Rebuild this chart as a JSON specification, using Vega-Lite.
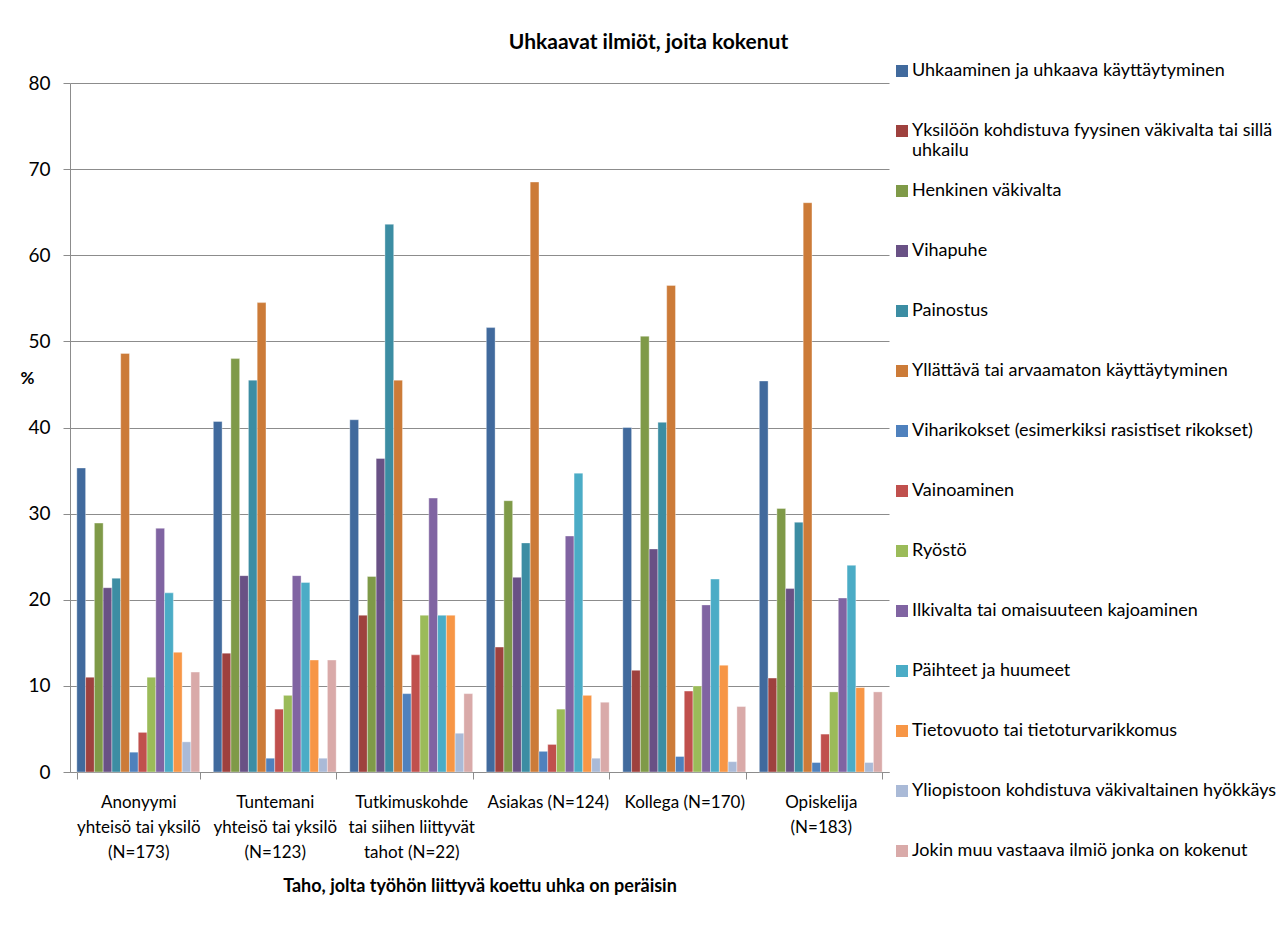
{
  "$schema": "https://vega.github.io/schema/vega-lite/v6.json",
  "width": 819,
  "height": 689,
  "autosize": {"type": "none"},
  "padding": {"left": 70, "top": 83, "right": 398, "bottom": 177},
  "background": "white",
  "title": {
    "text": "Uhkaavat ilmiöt, joita kokenut",
    "font": "Lato",
    "fontSize": 21,
    "fontWeight": "bold",
    "color": "black",
    "anchor": "middle",
    "frame": "bounds",
    "offset": -12
  },
  "data": {
    "values": [
      {"taho": "Anonyymi\nyhteisö tai yksilö\n(N=173)", "ilmio": "Uhkaaminen ja uhkaava käyttäytyminen", "osuus": 35.3},
      {"taho": "Anonyymi\nyhteisö tai yksilö\n(N=173)", "ilmio": "Yksilöön kohdistuva fyysinen väkivalta tai sillä\nuhkailu", "osuus": 11.0},
      {"taho": "Anonyymi\nyhteisö tai yksilö\n(N=173)", "ilmio": "Henkinen väkivalta", "osuus": 28.9},
      {"taho": "Anonyymi\nyhteisö tai yksilö\n(N=173)", "ilmio": "Vihapuhe", "osuus": 21.4},
      {"taho": "Anonyymi\nyhteisö tai yksilö\n(N=173)", "ilmio": "Painostus", "osuus": 22.5},
      {"taho": "Anonyymi\nyhteisö tai yksilö\n(N=173)", "ilmio": "Yllättävä tai arvaamaton käyttäytyminen", "osuus": 48.6},
      {"taho": "Anonyymi\nyhteisö tai yksilö\n(N=173)", "ilmio": "Viharikokset (esimerkiksi rasistiset rikokset)", "osuus": 2.3},
      {"taho": "Anonyymi\nyhteisö tai yksilö\n(N=173)", "ilmio": "Vainoaminen", "osuus": 4.6},
      {"taho": "Anonyymi\nyhteisö tai yksilö\n(N=173)", "ilmio": "Ryöstö", "osuus": 11.0},
      {"taho": "Anonyymi\nyhteisö tai yksilö\n(N=173)", "ilmio": "Ilkivalta tai omaisuuteen kajoaminen", "osuus": 28.3},
      {"taho": "Anonyymi\nyhteisö tai yksilö\n(N=173)", "ilmio": "Päihteet ja huumeet", "osuus": 20.8},
      {"taho": "Anonyymi\nyhteisö tai yksilö\n(N=173)", "ilmio": "Tietovuoto tai tietoturvarikkomus", "osuus": 13.9},
      {"taho": "Anonyymi\nyhteisö tai yksilö\n(N=173)", "ilmio": "Yliopistoon kohdistuva väkivaltainen hyökkäys", "osuus": 3.5},
      {"taho": "Anonyymi\nyhteisö tai yksilö\n(N=173)", "ilmio": "Jokin muu vastaava ilmiö  jonka on kokenut", "osuus": 11.6},

      {"taho": "Tuntemani\nyhteisö tai yksilö\n(N=123)", "ilmio": "Uhkaaminen ja uhkaava käyttäytyminen", "osuus": 40.7},
      {"taho": "Tuntemani\nyhteisö tai yksilö\n(N=123)", "ilmio": "Yksilöön kohdistuva fyysinen väkivalta tai sillä\nuhkailu", "osuus": 13.8},
      {"taho": "Tuntemani\nyhteisö tai yksilö\n(N=123)", "ilmio": "Henkinen väkivalta", "osuus": 48.0},
      {"taho": "Tuntemani\nyhteisö tai yksilö\n(N=123)", "ilmio": "Vihapuhe", "osuus": 22.8},
      {"taho": "Tuntemani\nyhteisö tai yksilö\n(N=123)", "ilmio": "Painostus", "osuus": 45.5},
      {"taho": "Tuntemani\nyhteisö tai yksilö\n(N=123)", "ilmio": "Yllättävä tai arvaamaton käyttäytyminen", "osuus": 54.5},
      {"taho": "Tuntemani\nyhteisö tai yksilö\n(N=123)", "ilmio": "Viharikokset (esimerkiksi rasistiset rikokset)", "osuus": 1.6},
      {"taho": "Tuntemani\nyhteisö tai yksilö\n(N=123)", "ilmio": "Vainoaminen", "osuus": 7.3},
      {"taho": "Tuntemani\nyhteisö tai yksilö\n(N=123)", "ilmio": "Ryöstö", "osuus": 8.9},
      {"taho": "Tuntemani\nyhteisö tai yksilö\n(N=123)", "ilmio": "Ilkivalta tai omaisuuteen kajoaminen", "osuus": 22.8},
      {"taho": "Tuntemani\nyhteisö tai yksilö\n(N=123)", "ilmio": "Päihteet ja huumeet", "osuus": 22.0},
      {"taho": "Tuntemani\nyhteisö tai yksilö\n(N=123)", "ilmio": "Tietovuoto tai tietoturvarikkomus", "osuus": 13.0},
      {"taho": "Tuntemani\nyhteisö tai yksilö\n(N=123)", "ilmio": "Yliopistoon kohdistuva väkivaltainen hyökkäys", "osuus": 1.6},
      {"taho": "Tuntemani\nyhteisö tai yksilö\n(N=123)", "ilmio": "Jokin muu vastaava ilmiö  jonka on kokenut", "osuus": 13.0},

      {"taho": "Tutkimuskohde\ntai siihen liittyvät\ntahot  (N=22)", "ilmio": "Uhkaaminen ja uhkaava käyttäytyminen", "osuus": 40.9},
      {"taho": "Tutkimuskohde\ntai siihen liittyvät\ntahot  (N=22)", "ilmio": "Yksilöön kohdistuva fyysinen väkivalta tai sillä\nuhkailu", "osuus": 18.2},
      {"taho": "Tutkimuskohde\ntai siihen liittyvät\ntahot  (N=22)", "ilmio": "Henkinen väkivalta", "osuus": 22.7},
      {"taho": "Tutkimuskohde\ntai siihen liittyvät\ntahot  (N=22)", "ilmio": "Vihapuhe", "osuus": 36.4},
      {"taho": "Tutkimuskohde\ntai siihen liittyvät\ntahot  (N=22)", "ilmio": "Painostus", "osuus": 63.6},
      {"taho": "Tutkimuskohde\ntai siihen liittyvät\ntahot  (N=22)", "ilmio": "Yllättävä tai arvaamaton käyttäytyminen", "osuus": 45.5},
      {"taho": "Tutkimuskohde\ntai siihen liittyvät\ntahot  (N=22)", "ilmio": "Viharikokset (esimerkiksi rasistiset rikokset)", "osuus": 9.1},
      {"taho": "Tutkimuskohde\ntai siihen liittyvät\ntahot  (N=22)", "ilmio": "Vainoaminen", "osuus": 13.6},
      {"taho": "Tutkimuskohde\ntai siihen liittyvät\ntahot  (N=22)", "ilmio": "Ryöstö", "osuus": 18.2},
      {"taho": "Tutkimuskohde\ntai siihen liittyvät\ntahot  (N=22)", "ilmio": "Ilkivalta tai omaisuuteen kajoaminen", "osuus": 31.8},
      {"taho": "Tutkimuskohde\ntai siihen liittyvät\ntahot  (N=22)", "ilmio": "Päihteet ja huumeet", "osuus": 18.2},
      {"taho": "Tutkimuskohde\ntai siihen liittyvät\ntahot  (N=22)", "ilmio": "Tietovuoto tai tietoturvarikkomus", "osuus": 18.2},
      {"taho": "Tutkimuskohde\ntai siihen liittyvät\ntahot  (N=22)", "ilmio": "Yliopistoon kohdistuva väkivaltainen hyökkäys", "osuus": 4.5},
      {"taho": "Tutkimuskohde\ntai siihen liittyvät\ntahot  (N=22)", "ilmio": "Jokin muu vastaava ilmiö  jonka on kokenut", "osuus": 9.1},

      {"taho": "Asiakas  (N=124)", "ilmio": "Uhkaaminen ja uhkaava käyttäytyminen", "osuus": 51.6},
      {"taho": "Asiakas  (N=124)", "ilmio": "Yksilöön kohdistuva fyysinen väkivalta tai sillä\nuhkailu", "osuus": 14.5},
      {"taho": "Asiakas  (N=124)", "ilmio": "Henkinen väkivalta", "osuus": 31.5},
      {"taho": "Asiakas  (N=124)", "ilmio": "Vihapuhe", "osuus": 22.6},
      {"taho": "Asiakas  (N=124)", "ilmio": "Painostus", "osuus": 26.6},
      {"taho": "Asiakas  (N=124)", "ilmio": "Yllättävä tai arvaamaton käyttäytyminen", "osuus": 68.5},
      {"taho": "Asiakas  (N=124)", "ilmio": "Viharikokset (esimerkiksi rasistiset rikokset)", "osuus": 2.4},
      {"taho": "Asiakas  (N=124)", "ilmio": "Vainoaminen", "osuus": 3.2},
      {"taho": "Asiakas  (N=124)", "ilmio": "Ryöstö", "osuus": 7.3},
      {"taho": "Asiakas  (N=124)", "ilmio": "Ilkivalta tai omaisuuteen kajoaminen", "osuus": 27.4},
      {"taho": "Asiakas  (N=124)", "ilmio": "Päihteet ja huumeet", "osuus": 34.7},
      {"taho": "Asiakas  (N=124)", "ilmio": "Tietovuoto tai tietoturvarikkomus", "osuus": 8.9},
      {"taho": "Asiakas  (N=124)", "ilmio": "Yliopistoon kohdistuva väkivaltainen hyökkäys", "osuus": 1.6},
      {"taho": "Asiakas  (N=124)", "ilmio": "Jokin muu vastaava ilmiö  jonka on kokenut", "osuus": 8.1},

      {"taho": "Kollega (N=170)", "ilmio": "Uhkaaminen ja uhkaava käyttäytyminen", "osuus": 40.0},
      {"taho": "Kollega (N=170)", "ilmio": "Yksilöön kohdistuva fyysinen väkivalta tai sillä\nuhkailu", "osuus": 11.8},
      {"taho": "Kollega (N=170)", "ilmio": "Henkinen väkivalta", "osuus": 50.6},
      {"taho": "Kollega (N=170)", "ilmio": "Vihapuhe", "osuus": 25.9},
      {"taho": "Kollega (N=170)", "ilmio": "Painostus", "osuus": 40.6},
      {"taho": "Kollega (N=170)", "ilmio": "Yllättävä tai arvaamaton käyttäytyminen", "osuus": 56.5},
      {"taho": "Kollega (N=170)", "ilmio": "Viharikokset (esimerkiksi rasistiset rikokset)", "osuus": 1.8},
      {"taho": "Kollega (N=170)", "ilmio": "Vainoaminen", "osuus": 9.4},
      {"taho": "Kollega (N=170)", "ilmio": "Ryöstö", "osuus": 10.0},
      {"taho": "Kollega (N=170)", "ilmio": "Ilkivalta tai omaisuuteen kajoaminen", "osuus": 19.4},
      {"taho": "Kollega (N=170)", "ilmio": "Päihteet ja huumeet", "osuus": 22.4},
      {"taho": "Kollega (N=170)", "ilmio": "Tietovuoto tai tietoturvarikkomus", "osuus": 12.4},
      {"taho": "Kollega (N=170)", "ilmio": "Yliopistoon kohdistuva väkivaltainen hyökkäys", "osuus": 1.2},
      {"taho": "Kollega (N=170)", "ilmio": "Jokin muu vastaava ilmiö  jonka on kokenut", "osuus": 7.6},

      {"taho": "Opiskelija\n(N=183)", "ilmio": "Uhkaaminen ja uhkaava käyttäytyminen", "osuus": 45.4},
      {"taho": "Opiskelija\n(N=183)", "ilmio": "Yksilöön kohdistuva fyysinen väkivalta tai sillä\nuhkailu", "osuus": 10.9},
      {"taho": "Opiskelija\n(N=183)", "ilmio": "Henkinen väkivalta", "osuus": 30.6},
      {"taho": "Opiskelija\n(N=183)", "ilmio": "Vihapuhe", "osuus": 21.3},
      {"taho": "Opiskelija\n(N=183)", "ilmio": "Painostus", "osuus": 29.0},
      {"taho": "Opiskelija\n(N=183)", "ilmio": "Yllättävä tai arvaamaton käyttäytyminen", "osuus": 66.1},
      {"taho": "Opiskelija\n(N=183)", "ilmio": "Viharikokset (esimerkiksi rasistiset rikokset)", "osuus": 1.1},
      {"taho": "Opiskelija\n(N=183)", "ilmio": "Vainoaminen", "osuus": 4.4},
      {"taho": "Opiskelija\n(N=183)", "ilmio": "Ryöstö", "osuus": 9.3},
      {"taho": "Opiskelija\n(N=183)", "ilmio": "Ilkivalta tai omaisuuteen kajoaminen", "osuus": 20.2},
      {"taho": "Opiskelija\n(N=183)", "ilmio": "Päihteet ja huumeet", "osuus": 24.0},
      {"taho": "Opiskelija\n(N=183)", "ilmio": "Tietovuoto tai tietoturvarikkomus", "osuus": 9.8},
      {"taho": "Opiskelija\n(N=183)", "ilmio": "Yliopistoon kohdistuva väkivaltainen hyökkäys", "osuus": 1.1},
      {"taho": "Opiskelija\n(N=183)", "ilmio": "Jokin muu vastaava ilmiö  jonka on kokenut", "osuus": 9.3}
    ]
  },
  "mark": {"type": "bar", "stroke": "white", "strokeWidth": 0.6, "strokeOpacity": 0.6},
  "encoding": {
    "x": {
      "field": "taho",
      "type": "nominal",
      "sort": null,
      "scale": {"paddingInner": 0.1, "paddingOuter": 0.05},
      "axis": {
        "title": "Taho, jolta työhön liittyvä koettu uhka on peräisin",
        "titleFont": "Lato",
        "titleFontSize": 18,
        "titleFontWeight": "bold",
        "titleColor": "black",
        "titlePadding": 17,
        "labelExpr": "split(datum.label, '\\n')",
        "labelAngle": 0,
        "labelAlign": "center",
        "labelBaseline": "top",
        "labelFont": "Lato",
        "labelFontSize": 17,
        "labelColor": "black",
        "labelLineHeight": 25,
        "labelPadding": 15,
        "labelLimit": 200,
        "tickBand": "extent",
        "tickSize": 7,
        "tickColor": "#8c8c8c",
        "domainColor": "#8c8c8c",
        "grid": false
      }
    },
    "xOffset": {"field": "ilmio", "type": "nominal", "sort": null, "scale": {"paddingInner": 0, "paddingOuter": 0}},
    "y": {
      "field": "osuus",
      "type": "quantitative",
      "scale": {"domain": [0, 80], "nice": false},
      "axis": {
        "values": [0, 10, 20, 30, 40, 50, 60, 70, 80],
        "title": "%",
        "titleAngle": 0,
        "titleX": -43,
        "titleY": 295,
        "titleAlign": "center",
        "titleBaseline": "middle",
        "titleFont": "Lato",
        "titleFontSize": 17,
        "titleFontWeight": "bold",
        "titleColor": "black",
        "labelFont": "Lato",
        "labelFontSize": 19,
        "labelColor": "black",
        "labelPadding": 13,
        "tickSize": 7,
        "tickColor": "#8c8c8c",
        "domainColor": "#8c8c8c",
        "grid": true,
        "gridColor": "#8c8c8c",
        "gridWidth": 1.2
      }
    },
    "color": {
      "field": "ilmio",
      "type": "nominal",
      "scale": {
        "domain": [
          "Uhkaaminen ja uhkaava käyttäytyminen",
          "Yksilöön kohdistuva fyysinen väkivalta tai sillä\nuhkailu",
          "Henkinen väkivalta",
          "Vihapuhe",
          "Painostus",
          "Yllättävä tai arvaamaton käyttäytyminen",
          "Viharikokset (esimerkiksi rasistiset rikokset)",
          "Vainoaminen",
          "Ryöstö",
          "Ilkivalta tai omaisuuteen kajoaminen",
          "Päihteet ja huumeet",
          "Tietovuoto tai tietoturvarikkomus",
          "Yliopistoon kohdistuva väkivaltainen hyökkäys",
          "Jokin muu vastaava ilmiö  jonka on kokenut"
        ],
        "range": [
          "#416a9d", "#9e413e", "#7f9a48", "#695185", "#3c8da3", "#cc7b38", "#4f81bd",
          "#c0504d", "#9bbb59", "#8064a2", "#4bacc6", "#f79646", "#aabad7", "#d9aaa9"
        ]
      },
      "legend": {
        "title": null,
        "orient": "none",
        "legendX": 823,
        "legendY": -42,
        "clipHeight": 60,
        "rowPadding": 0,
        "symbolType": "square",
        "symbolSize": 144,
        "symbolStrokeWidth": 0,
        "labelFont": "Lato",
        "labelFontSize": 18,
        "labelColor": "black",
        "labelLimit": 420,
        "labelOffset": 1,
        "labelExpr": "split(datum.label, '\\n')"
      }
    }
  },
  "config": {
    "view": {"stroke": null},
    "font": "Lato"
  }
}
